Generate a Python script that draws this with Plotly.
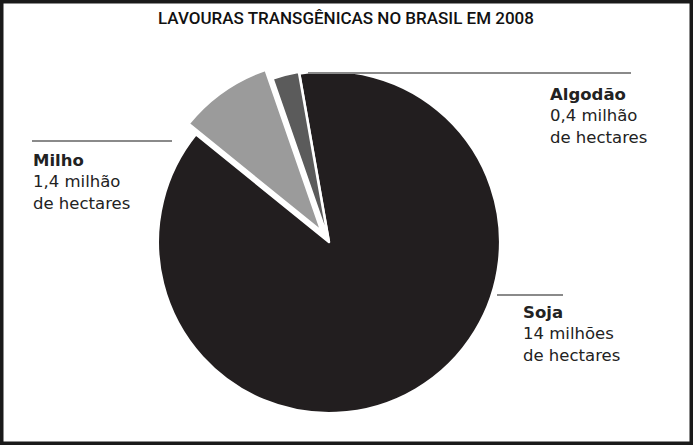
import plotly.graph_objects as go

# Dados do gráfico (milhões de hectares)
culturas = ["Soja", "Milho", "Algodão"]
areas = [14, 1.4, 0.4]
rotulos = [
    "<b>Soja</b><br>14 milhões<br>de hectares",
    "<b>Milho</b><br>1,4 milhão<br>de hectares",
    "<b>Algodão</b><br>0,4 milhão<br>de hectares",
]
cores = ["#221e1f", "#9b9b9b", "#5b5b5b"]
destaque = [0, 0.075, 0.01]

W, H = 693, 445


def px(x):
    return x / W


def py(y):
    return 1 - y / H


fig = go.Figure()

fig.add_trace(
    go.Pie(
        labels=culturas,
        values=areas,
        sort=False,
        direction="clockwise",
        rotation=-10,
        pull=destaque,
        marker=dict(colors=cores, line=dict(color="white", width=2.5)),
        textinfo="none",
        hoverinfo="label+value",
        showlegend=False,
        domain=dict(x=[px(145), px(513)], y=[py(426), py(58)]),
    )
)

# linhas de chamada
chamadas = [(497, 563, 295), (32, 172, 141), (308, 631, 73)]
for x0, x1, y in chamadas:
    fig.add_shape(
        type="line", xref="paper", yref="paper",
        x0=px(x0), x1=px(x1), y0=py(y), y1=py(y),
        line=dict(color="#8a8a8a", width=2),
    )

# posições dos rótulos
pos_rotulos = [(521, 301), (31, 149), (548, 83)]
for txt, (x, y) in zip(rotulos, pos_rotulos):
    fig.add_annotation(
        text=txt, xref="paper", yref="paper", x=px(x), y=py(y),
        xanchor="left", yanchor="top", align="left", showarrow=False,
        font=dict(family="DejaVu Sans", size=16.5, color="#222222"),
    )

fig.add_annotation(
    text="LAVOURAS TRANSGÊNICAS NO BRASIL EM 2008",
    xref="paper", yref="paper", x=px(346), y=py(6),
    xanchor="center", yanchor="top", showarrow=False,
    font=dict(family="Roboto", size=17, weight=500, color="#111111"),
)

# moldura
fig.add_shape(
    type="rect", xref="paper", yref="paper", x0=0, x1=1, y0=0, y1=1,
    line=dict(color="#1a1a1a", width=7),
)

fig.update_layout(
    width=W,
    height=H,
    margin=dict(l=0, r=0, t=0, b=0),
    paper_bgcolor="white",
    plot_bgcolor="white",
)

fig.write_html(
    "out.html",
    config={"displayModeBar": False},
    post_script="document.body.style.margin='0';document.body.style.overflow='hidden';",
)
